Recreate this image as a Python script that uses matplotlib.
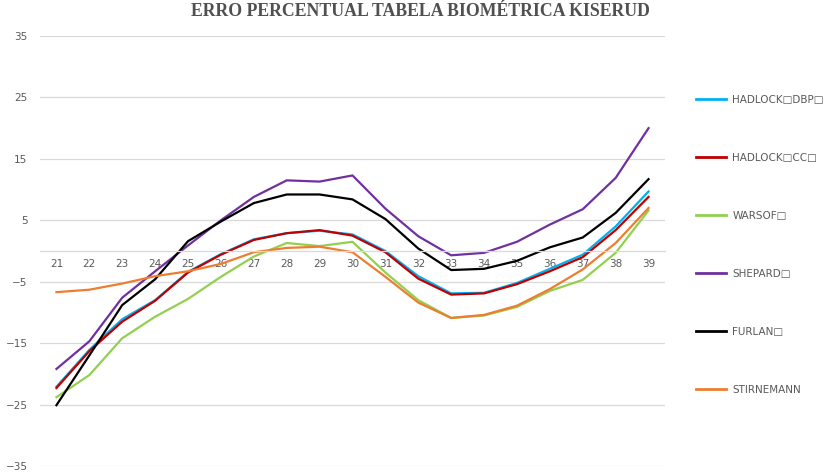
import matplotlib
matplotlib.use("Agg")
import matplotlib.pyplot as plt
from matplotlib.lines import Line2D

# gestational weeks
weeks = [21, 22, 23, 24, 25, 26, 27, 28, 29, 30, 31, 32, 33, 34, 35, 36, 37, 38, 39]

# percentage error of each biometric formula vs the Kiserud table
hadlock_dbp = [-22.1, -16.1, -11.1, -8.0, -3.4, -0.5, 1.9, 2.9, 3.3, 2.7, 0.0, -4.1, -6.9, -6.8, -5.2, -2.9, -0.6, 4.0, 9.7]
hadlock_cc = [-22.3, -16.3, -11.5, -8.1, -3.5, -0.6, 1.8, 2.9, 3.4, 2.5, -0.2, -4.5, -7.1, -6.9, -5.4, -3.3, -1.0, 3.4, 8.8]
warsof = [-23.8, -20.2, -14.2, -10.7, -7.8, -4.2, -0.9, 1.3, 0.8, 1.5, -3.5, -8.0, -10.9, -10.5, -9.1, -6.5, -4.7, -0.3, 6.6]
shepard = [-19.2, -14.7, -7.6, -3.3, 0.9, 5.0, 8.8, 11.5, 11.3, 12.3, 6.9, 2.4, -0.7, -0.3, 1.5, 4.3, 6.8, 11.9, 20.0]
furlan = [-25.1, -17.0, -8.8, -4.6, 1.6, 4.8, 7.8, 9.2, 9.2, 8.4, 5.2, 0.4, -3.1, -2.9, -1.6, 0.6, 2.2, 6.2, 11.7]
stirnemann = [-6.7, -6.3, -5.3, -4.1, -3.3, -2.1, -0.2, 0.5, 0.7, -0.2, -4.2, -8.4, -10.9, -10.4, -8.9, -6.2, -3.0, 1.3, 7.0]

series = [
    ("HADLOCK\u25a1DBP\u25a1", hadlock_dbp, "#00B0F0"),
    ("HADLOCK\u25a1CC\u25a1", hadlock_cc, "#C00000"),
    ("WARSOF\u25a1", warsof, "#92D050"),
    ("SHEPARD\u25a1", shepard, "#7030A0"),
    ("FURLAN\u25a1", furlan, "#000000"),
    ("STIRNEMANN", stirnemann, "#ED7D31"),
]

fig = plt.figure(figsize=(8.27, 4.72), dpi=100)
ax = fig.add_axes([40 / 827, 6 / 472, 625 / 827, 430 / 472])

pos = list(range(len(weeks)))
handles = []
for name, vals, color in series:
    ax.plot(pos, vals, color=color, lw=1.6, solid_joinstyle="round")
    handles.append(Line2D([], [], color=color, lw=2.0))

ax.set_xlim(-0.5, len(weeks) - 0.5)
ax.set_ylim(-35, 35)
ax.set_yticks(range(-35, 36, 10))
ax.set_xticks(pos)
ax.set_xticklabels([str(w) for w in weeks])

# category axis sits on the zero line
ax.spines["bottom"].set_position(("data", 0))
ax.spines["bottom"].set_color("#D9D9D9")
ax.spines["bottom"].set_linewidth(0.9)
for s in ["top", "right", "left"]:
    ax.spines[s].set_visible(False)

ax.tick_params(axis="x", length=0, pad=6, labelsize=7.5, labelcolor="#595959")
ax.tick_params(axis="y", length=0, pad=9, labelsize=7.5, labelcolor="#595959")
ax.yaxis.grid(True, color="#D9D9D9", lw=0.9)
ax.set_axisbelow(True)

fig.text(0.508, 1 - 11 / 472, "ERRO PERCENTUAL TABELA BIOMÉTRICA KISERUD",
         ha="center", va="center", family="Liberation Serif", weight="bold",
         fontsize=12.8, color="#505050")

fig.legend(handles, [s[0] for s in series], loc="upper left",
           bbox_to_anchor=(696 / 827, 1 - 95 / 472), frameon=False,
           fontsize=7.5, labelcolor="#595959", handlelength=2.9,
           handletextpad=0.6, labelspacing=4.6, borderpad=0, borderaxespad=0)

fig.savefig("out.png", dpi=100, facecolor="white")
